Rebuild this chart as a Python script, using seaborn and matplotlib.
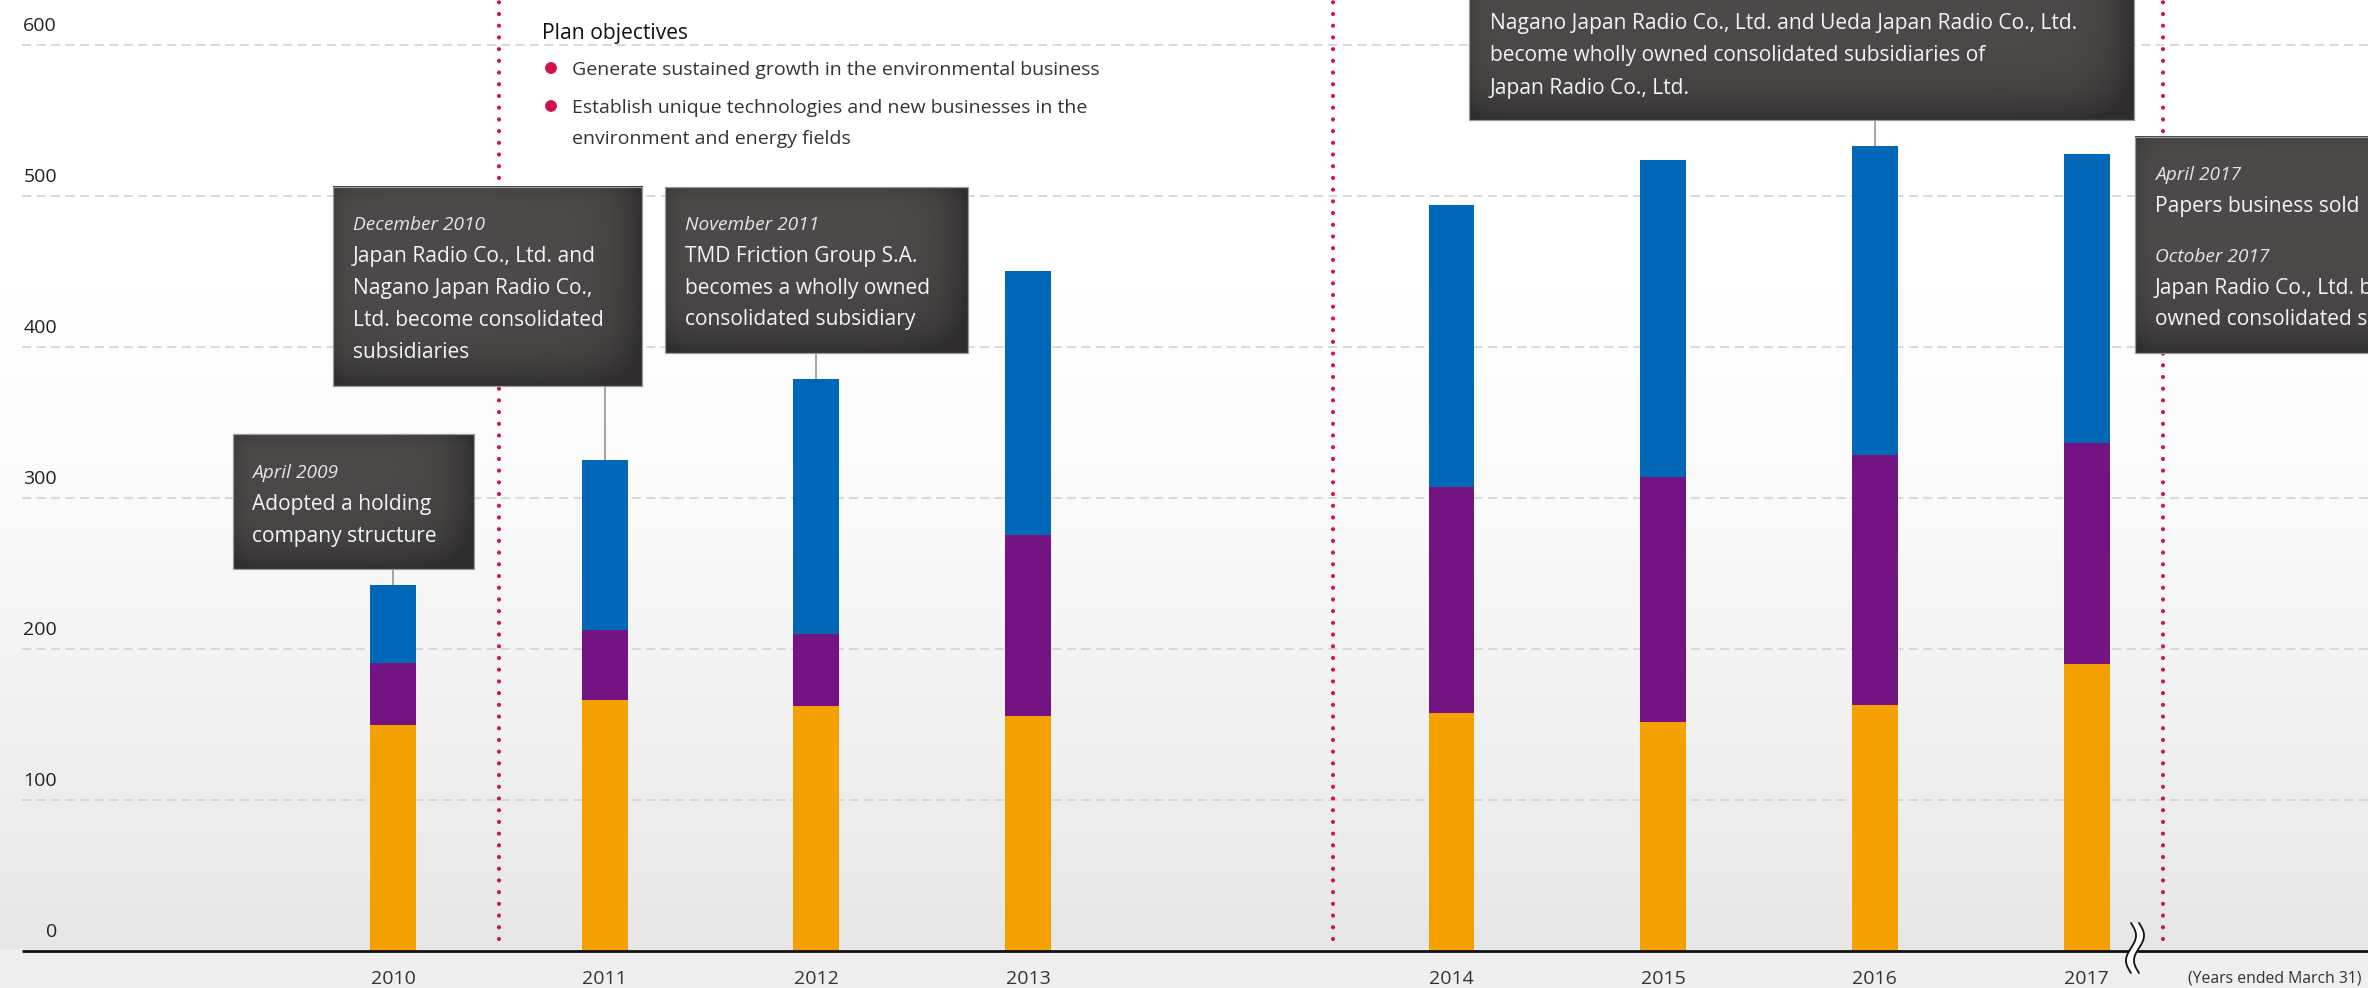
import numpy as np
import pandas as pd
import matplotlib
matplotlib.use("Agg")
import matplotlib.pyplot as plt
import matplotlib.transforms as mtransforms
from matplotlib.patches import Rectangle, Circle
import seaborn as sns

# ---------------- data ----------------
years = [2010, 2011, 2012, 2013, 2014, 2015, 2016, 2017]
orange_vals = [149.5, 166, 162, 155.5, 157.5, 151.5, 162.5, 190]
purple_vals = [41, 46.5, 47.5, 119.5, 149.5, 162, 165.5, 146.5]
blue_vals = [51.5, 112.5, 169, 175, 187, 210, 205, 191]
y_ticks = [0, 100, 200, 300, 400, 500, 600]
year_labels = [str(y) for y in years]
x_note = "(Years ended March 31)"

plan_title = "Plan objectives"
plan_bullets = [
    ["Generate sustained growth in the environmental business"],
    ["Establish unique technologies and new businesses in the",
     "environment and energy fields"],
]

# ---------------- layout ----------------
W, H, DPI = 2368, 988, 100
PX0, SLOT = 393.0, 211.7        # pixel x of first bar, pixels per slot
ZERO_PX, UNIT_PX = 950.7, 1.51  # pixel y of value 0, pixels per unit

C_ORANGE, C_PURPLE, C_BLUE = "#f4a100", "#731482", "#0068b7"
C_RED = "#d4124a"

sns.set_theme(style="white")
plt.rcParams['font.family'] = ['Open Sans', 'DejaVu Sans']

fig = plt.figure(figsize=(W / DPI, H / DPI), dpi=DPI)
ax = fig.add_axes([0, 0, 1, 1], zorder=0)
ax.set_axis_off()
ov = fig.add_axes([0, 0, 1, 1], zorder=5)
ov.set_axis_off()

xlim = (-PX0 / SLOT, (W - PX0) / SLOT)
ylim = ((ZERO_PX - H) / UNIT_PX, ZERO_PX / UNIT_PX)


def px2val(py):
    return (ZERO_PX - py) / UNIT_PX


# positions with a one-slot gap before 2014
pos = [i + (1 if yr >= 2014 else 0) for i, yr in enumerate(years)]
df = pd.DataFrame({"pos": pos, "year": years, "orange": orange_vals,
                   "purple": purple_vals, "blue": blue_vals})
df["top_purple"] = df["orange"] + df["purple"]
df["total"] = df["top_purple"] + df["blue"]

# background gradient
vals = np.linspace(ylim[1], ylim[0], 800)
g = np.where(vals < 0, 0.941,
             np.interp(vals, [0, 150, 300, 440], [0.905, 0.945, 0.982, 1.0]))
bg = np.repeat(g[:, None], 2, axis=1)
ax.imshow(np.dstack([bg, bg, bg]), extent=(xlim[0], xlim[1], ylim[0], ylim[1]),
          aspect='auto', origin='upper', zorder=0, interpolation='bilinear')

# gridlines
grid_left = (22 - PX0) / SLOT
ax.hlines(y_ticks[1:], grid_left, xlim[1], colors='#d0d0d0', linewidth=1.1,
          linestyles=[(0, (6, 3.5))], zorder=1)

# red dotted separators
dots = ax.vlines([0.5, 4.44, 8.36], px2val(939), ylim[1], colors=C_RED,
                 linewidth=3.0, linestyles=[(0, (0.01, 2.8))], zorder=2)
dots.set_capstyle('round')

# stacked bars via seaborn
common = dict(x="pos", native_scale=True, width=0.217, saturation=1,
              errorbar=None, linewidth=0, ax=ax, orient="x")
sns.barplot(data=df, y="total", color=C_BLUE, zorder=3, **common)
sns.barplot(data=df, y="top_purple", color=C_PURPLE, zorder=3.1, **common)
sns.barplot(data=df, y="orange", color=C_ORANGE, zorder=3.2, **common)

# axis line
ax.hlines(0, grid_left, xlim[1], colors='#111111', linewidth=2.0, zorder=4)

# y labels
tr_y = mtransforms.offset_copy(
    mtransforms.blended_transform_factory(ov.transData, ax.transData),
    fig=fig, y=19, units='dots')
for t in y_ticks:
    ax.text(57, t, str(t), transform=tr_y, ha='right', va='center',
            fontsize=14, color='#222222', zorder=5)

# year labels
tr_x = mtransforms.blended_transform_factory(ax.transData, ov.transData)
for p, lab in zip(pos, year_labels):
    ax.text(p, 979, lab, transform=tr_x, ha='center', va='center',
            fontsize=14, color='#333333', zorder=5)
ov.text(2362, 978, x_note, ha='right', va='center', fontsize=11.3, color='#333333')

# break marker
t = np.linspace(0, 1, 80)
yy = 923 + 50 * t
xx = 2131 + 5 * np.sin(2 * np.pi * t)
ov.fill_betweenx(yy, xx, xx + 8, color='white', zorder=3, linewidth=0)
ov.plot(xx, yy, color='#111111', linewidth=1.3, zorder=4)
ov.plot(xx + 8, yy, color='#111111', linewidth=1.3, zorder=4)

# annotation boxes
boxes = [
    dict(rect=(232.6, 434, 474, 569), tx=252, year=2010,
         lines=[("April 2009", True, 471), ("Adopted a holding", False, 503),
                ("company structure", False, 534.5)]),
    dict(rect=(332.6, 187, 642, 386), tx=352.7, year=2011,
         lines=[("December 2010", True, 223), ("Japan Radio Co., Ltd. and", False, 255),
                ("Nagano Japan Radio Co.,", False, 287),
                ("Ltd. become consolidated", False, 319), ("subsidiaries", False, 351)]),
    dict(rect=(665, 186.7, 967.5, 352.7), tx=685, year=2012,
         lines=[("November 2011", True, 223), ("TMD Friction Group S.A.", False, 255),
                ("becomes a wholly owned", False, 287),
                ("consolidated subsidiary", False, 318)]),
    dict(rect=(1469, -60, 2134, 120.5), tx=1490, year=2016,
         lines=[("Nagano Japan Radio Co., Ltd. and Ueda Japan Radio Co., Ltd.", False, 22),
                ("become wholly owned consolidated subsidiaries of", False, 54),
                ("Japan Radio Co., Ltd.", False, 87)]),
    dict(rect=(2134.7, 136.7, 2460, 353), tx=2155, year=None,
         lines=[("April 2017", True, 173), ("Papers business sold", False, 205),
                ("October 2017", True, 255),
                ("Japan Radio Co., Ltd. becomes a wholly", False, 287),
                ("owned consolidated subsidiary", False, 318)]),
]


def draw_box(x0, y0, x1, y1):
    w, h = x1 - x0, y1 - y0
    nx, ny = int(w), int(h)
    xs = np.arange(nx) + 0.5
    ys = np.arange(ny) + 0.5
    left = np.exp(-xs / 8)[None, :] * 0.45
    right = np.exp(-(w - xs) / 22)[None, :]
    top = np.exp(-ys / 8)[:, None] * 0.35
    bot = np.exp(-(h - ys) / 24)[:, None]
    shade = np.clip(left + right + top + bot, 0, 1) * 0.85
    base = np.array([0.300, 0.288, 0.284])
    edge = np.array([0.165, 0.160, 0.160])
    img = base[None, None, :] * (1 - shade[..., None]) + edge[None, None, :] * shade[..., None]
    ov.imshow(img, extent=(x0, x1, y1, y0), origin='upper', aspect='auto',
              zorder=6, interpolation='bilinear')
    ov.add_patch(Rectangle((x0, y0), w, h, fill=False, edgecolor='#9a9a9a',
                           linewidth=0.9, zorder=7))


for b in boxes:
    x0, y0, x1, y1 = b["rect"]
    draw_box(x0, y0, x1, y1)
    for txt, it, yc in b["lines"]:
        ov.text(b["tx"], yc + 7, txt, ha='left', va='baseline',
                fontsize=13.8 if it else 15.1, style='italic' if it else 'normal',
                color='#e6e6e6' if it else '#f4f4f4', zorder=8)
    if b["year"] is not None:
        i = years.index(b["year"])
        ax.vlines(pos[i], df["total"][i], px2val((y0 + y1) / 2), colors='#8c8c8c',
                  linewidth=1.1, zorder=2.5)

# plan objectives
ov.text(542, 39.5, plan_title, ha='left', va='baseline', fontsize=15.2,
        color='#111111')
by = [[68], [106, 137]]
for lines, ys in zip(plan_bullets, by):
    ov.add_patch(Circle((551, ys[0]), 5.2, color=C_RED, zorder=3))
    for txt, yc in zip(lines, ys):
        ov.text(572, yc + 7, txt, ha='left', va='baseline', fontsize=14,
                color='#333333')

ax.set_xlim(*xlim)
ax.set_ylim(*ylim)
ov.set_xlim(0, W)
ov.set_ylim(H, 0)

fig.savefig("out.png", dpi=DPI)
